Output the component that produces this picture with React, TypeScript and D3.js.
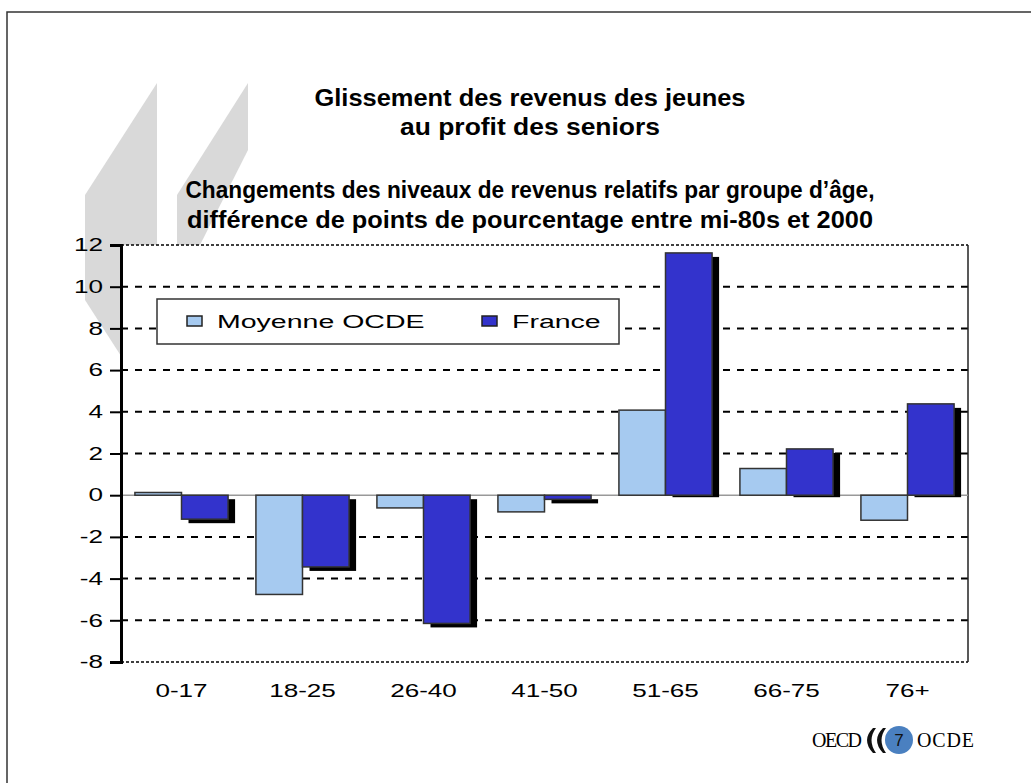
import React, { useRef, useEffect } from "react";
import * as d3 from "d3";

const ageGroups = ["0-17", "18-25", "26-40", "41-50", "51-65", "66-75", "76+"];
const seriesNames = ["Moyenne OCDE", "France"];
const oecdValues = [0.13, -4.76, -0.61, -0.8, 4.08, 1.28, -1.2];
const franceValues = [-1.15, -3.44, -6.15, -0.2, 11.62, 2.22, 4.38];
const yTicks = [12, 10, 8, 6, 4, 2, 0, -2, -4, -6, -8];
const titleLines = ["Glissement des revenus des jeunes", "au profit des seniors"];
const subtitleLines = [
    "Changements des niveaux de revenus relatifs par groupe d’âge,",
    "différence de points de pourcentage entre mi-80s et 2000",
];

const FONT = "'Liberation Sans', Arial, sans-serif";
const colors = ["#a6caf0", "#3333cc"];

function App() {
    const svgRef = useRef<SVGSVGElement>(null);

    useEffect(() => {
        const svg = d3.select(svgRef.current);
        svg.selectAll("*").remove();

        const width = 1031;
        const height = 783;
        const plot = { left: 121, right: 968, top: 245, bottom: 662 };

        svg.attr("width", width).attr("height", height);

        // slide frame
        svg.append("rect")
            .attr("x", 7).attr("y", 12)
            .attr("width", 1040).attr("height", 800)
            .attr("fill", "#fff")
            .attr("stroke", "#333").attr("stroke-width", 1.5);

        // grey quote marks in the background
        const quotes = [
            [[157, 83], [157, 300], [121, 356], [85, 300], [85, 195]],
            [[248, 83], [248, 150], [200, 245], [177, 245], [177, 195]],
        ];
        svg.selectAll("polygon.quote")
            .data(quotes)
            .enter()
            .append("polygon")
            .attr("class", "quote")
            .attr("points", (d) => d.map((p) => p.join(",")).join(" "))
            .attr("fill", "#d9d9d9");

        const yScale = d3.scaleLinear().domain([-8, 12]).range([plot.bottom, plot.top]);
        const x0 = d3.scaleBand()
            .domain(ageGroups)
            .range([plot.left, plot.right])
            .paddingInner(0.23)
            .paddingOuter(0.115);
        const x1 = d3.scaleBand().domain(seriesNames).range([0, x0.bandwidth()]);

        const g = svg.append("g");

        g.append("rect")
            .attr("x", plot.left).attr("y", plot.top)
            .attr("width", plot.right - plot.left)
            .attr("height", plot.bottom - plot.top)
            .attr("fill", "#fff");

        // gridlines
        g.selectAll("line.grid")
            .data(yTicks.filter((t) => t !== 0))
            .enter()
            .append("line")
            .attr("class", "grid")
            .attr("x1", plot.left).attr("x2", plot.right)
            .attr("y1", (d) => yScale(d)).attr("y2", (d) => yScale(d))
            .attr("stroke", "#000")
            .attr("stroke-width", (d) => (d === 12 || d === -8 ? 1.5 : 2))
            .attr("stroke-dasharray", (d) => (d === 12 || d === -8 ? "3,2" : "7,7"));

        g.append("line")
            .attr("x1", plot.right).attr("x2", plot.right)
            .attr("y1", plot.top).attr("y2", plot.bottom)
            .attr("stroke", "#222").attr("stroke-width", 1.5);

        g.append("line")
            .attr("x1", plot.left).attr("x2", plot.right)
            .attr("y1", yScale(0)).attr("y2", yScale(0))
            .attr("stroke", "#999").attr("stroke-width", 1.5);

        const rows = ageGroups.map((age, i) => ({
            age,
            values: [
                { name: seriesNames[0], value: oecdValues[i] },
                { name: seriesNames[1], value: franceValues[i] },
            ],
        }));

        // shadows behind the France bars
        g.selectAll("rect.shadow")
            .data(rows)
            .enter()
            .append("rect")
            .attr("class", "shadow")
            .attr("x", (d) => x0(d.age)! + x1(seriesNames[1])! + 7)
            .attr("y", (d) => Math.min(yScale(d.values[1].value), yScale(0)) + 4)
            .attr("width", x1.bandwidth())
            .attr("height", (d) => {
                const h = Math.abs(yScale(d.values[1].value) - yScale(0));
                return d.values[1].value > 0 ? Math.max(h - 2, 0) : h;
            })
            .attr("fill", "#000");

        const groups = g.selectAll("g.group")
            .data(rows)
            .enter()
            .append("g")
            .attr("class", "group")
            .attr("transform", (d) => `translate(${x0(d.age)},0)`);

        groups.selectAll("rect")
            .data((d) => d.values)
            .enter()
            .append("rect")
            .attr("x", (d) => x1(d.name)!)
            .attr("y", (d) => Math.min(yScale(d.value), yScale(0)))
            .attr("width", x1.bandwidth())
            .attr("height", (d) => Math.abs(yScale(d.value) - yScale(0)))
            .attr("fill", (d, i) => colors[i])
            .attr("stroke", "#333")
            .attr("stroke-width", 1.5);

        // y axis
        const yAxis = d3.axisLeft(yScale)
            .tickValues(yTicks)
            .tickFormat((d) => `${d}`)
            .tickSize(11)
            .tickPadding(7);
        const ya = g.append("g")
            .attr("transform", `translate(${plot.left},0)`)
            .call(yAxis);
        ya.select(".domain").attr("stroke", "#000").attr("stroke-width", 3);
        ya.selectAll(".tick line").attr("stroke", "#000").attr("stroke-width", 2);
        ya.selectAll(".tick text")
            .attr("font-family", FONT)
            .attr("font-size", 18)
            .attr("fill", "#000")
            .attr("x", -18 / 1.45)
            .attr("transform", "scale(1.45,1)");

        // x axis labels
        const xAxis = d3.axisBottom(x0).tickSize(0).tickPadding(22);
        const xa = g.append("g")
            .attr("transform", `translate(0,${plot.bottom})`)
            .call(xAxis);
        xa.select(".domain").remove();
        xa.selectAll(".tick text")
            .attr("font-family", FONT)
            .attr("font-size", 18)
            .attr("fill", "#000")
            .attr("transform", "scale(1.45,1)");

        // legend
        const legend = svg.append("g");
        legend.append("rect")
            .attr("x", 157).attr("y", 299)
            .attr("width", 462).attr("height", 45)
            .attr("fill", "#fff")
            .attr("stroke", "#333").attr("stroke-width", 1.5);
        const legendX = [187, 482];
        seriesNames.forEach((name, i) => {
            legend.append("rect")
                .attr("x", legendX[i]).attr("y", 316)
                .attr("width", 15).attr("height", 10)
                .attr("fill", colors[i])
                .attr("stroke", "#222").attr("stroke-width", 1.5);
            legend.append("text")
                .attr("transform", `translate(${legendX[i] + 30},328) scale(1.5,1)`)
                .attr("font-family", FONT)
                .attr("font-size", 19)
                .text(name);
        });

        // titles
        const titleSpecs = [
            { text: titleLines[0], y: 106, len: 431 },
            { text: titleLines[1], y: 135, len: 260 },
            { text: subtitleLines[0], y: 198, len: 689 },
            { text: subtitleLines[1], y: 228, len: 686 },
        ];
        svg.selectAll("text.title")
            .data(titleSpecs)
            .enter()
            .append("text")
            .attr("class", "title")
            .attr("x", 530)
            .attr("y", (d) => d.y)
            .attr("text-anchor", "middle")
            .attr("font-family", FONT)
            .attr("font-weight", "bold")
            .attr("font-size", 23)
            .attr("textLength", (d) => d.len)
            .attr("lengthAdjust", "spacingAndGlyphs")
            .text((d) => d.text);

        // OECD logo
        const logo = svg.append("g");
        logo.append("text")
            .attr("x", 812).attr("y", 747)
            .attr("font-family", "'Liberation Serif', serif")
            .attr("font-size", 20)
            .attr("textLength", 50)
            .text("OECD");
        [867, 877].forEach((x) => {
            logo.append("path")
                .attr("d", `M${x + 6},728 Q${x - 6},740 ${x + 6},753 L${x + 9},753 Q${x},740 ${x + 9},728 Z`)
                .attr("fill", "#111");
        });
        logo.append("circle")
            .attr("cx", 899).attr("cy", 740).attr("r", 14)
            .attr("fill", "#4a80c0");
        logo.append("text")
            .attr("x", 899).attr("y", 746)
            .attr("text-anchor", "middle")
            .attr("font-family", FONT)
            .attr("font-size", 17)
            .attr("fill", "#111")
            .text("7");
        logo.append("text")
            .attr("x", 917).attr("y", 747)
            .attr("font-family", "'Liberation Serif', serif")
            .attr("font-size", 20)
            .attr("textLength", 57)
            .text("OCDE");
    }, []);

    return (
        <svg ref={svgRef} style={{ position: "absolute", left: 0, top: 0 }}></svg>
    );
}

export default App;
